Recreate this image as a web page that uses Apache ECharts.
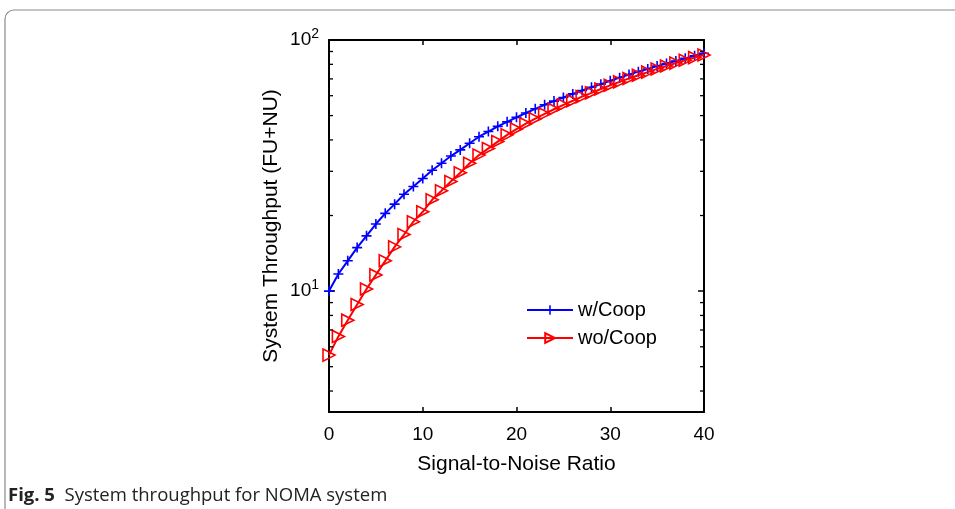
<!DOCTYPE html>
<html>
<head>
<meta charset="utf-8">
<script src="https://cdn.jsdelivr.net/npm/echarts@6/dist/echarts.min.js"></script>
<style>html,body{margin:0;padding:0;background:#fff;}#c{width:955px;height:509px;}</style>
</head>
<body>
<div id="c"></div>
<script>
var snr = [];
for (var i = 0; i <= 40; i++) snr.push(i);
var withCoop = [10, 11.7, 13.2, 14.9, 16.6, 18.5, 20.4, 22.2, 24.3, 26.1, 28.1, 30.3, 32.3, 34.5, 36.5, 38.8, 41.2, 43.2, 45.3, 47.2, 49.2, 51.2, 53.2, 55.2, 57.1, 59.0, 61.0, 62.9, 64.8, 66.7, 68.8, 70.8, 72.8, 74.8, 76.7, 78.7, 80.6, 82.5, 84.5, 86.5, 88.6];
var woCoop = [5.56, 6.6, 7.66, 8.85, 10.2, 11.6, 13.2, 15.0, 16.8, 18.9, 20.7, 23.1, 25.1, 27.3, 29.6, 32.3, 34.8, 37.0, 39.4, 41.9, 44.2, 46.4, 48.6, 50.8, 53.0, 55.2, 57.3, 59.5, 61.6, 63.8, 66.0, 68.1, 70.3, 72.4, 74.5, 76.7, 78.8, 80.9, 83.0, 85.1, 87.2];
var xTicks = [0, 10, 20, 30, 40];
var yMinorTicks = [4, 5, 6, 7, 8, 9, 20, 30, 40, 50, 60, 70, 80, 90];
var seriesNames = ['w/Coop', 'wo/Coop'];
var xName = 'Signal-to-Noise Ratio';
var yName = 'System Throughput (FU+NU)';

var font = 'Liberation Sans, Arial, Helvetica, sans-serif';
var chart = echarts.init(document.getElementById('c'));

function pairs(ys) { return snr.map(function (x, i) { return [x, ys[i]]; }); }

var plusPath = 'path://M4.2,0H5.8V4.2H10V5.8H5.8V10H4.2V5.8H0V4.2H4.2Z';

chart.setOption({
  animation: false,
  backgroundColor: '#fff',
  graphic: [
    { type: 'rect', shape: { x: 5, y: 10, width: 1000, height: 600, r: 9 }, style: { fill: 'none', stroke: '#8a8a8a', lineWidth: 1.2 }, silent: true },
    { type: 'text', left: 8, top: 486, style: { text: '{b|Fig. 5}  System throughput for NOMA system', font: '18.5px "Open Sans", "Noto Sans", sans-serif', fill: '#222', rich: { b: { fontWeight: 'bold', fontSize: 18.5, fontFamily: '"Open Sans", "Noto Sans", sans-serif', fill: '#222' } } } }
  ],
  grid: { left: 329, right: 251, top: 40, bottom: 97, containLabel: false },
  legend: {
    data: seriesNames,
    orient: 'vertical',
    left: 521, top: 295,
    itemWidth: 46, itemHeight: 12, itemGap: 8,
    textStyle: { fontFamily: font, fontSize: 20, color: '#000' },
    backgroundColor: 'rgba(0,0,0,0)'
  },
  xAxis: [{
    type: 'value', min: 0, max: 40, interval: 10,
    name: xName, nameLocation: 'middle', nameGap: 42,
    nameTextStyle: { fontFamily: font, fontSize: 21, color: '#000' },
    axisLine: { show: true, lineStyle: { color: '#000', width: 2 } },
    axisTick: { show: true, inside: true, length: 5, lineStyle: { color: '#000', width: 1.5 } },
    axisLabel: { fontFamily: font, fontSize: 19, color: '#000', margin: 13 },
    splitLine: { show: false }
  }, {
    type: 'value', min: 0, max: 40, interval: 10, position: 'top',
    axisLine: { show: true, onZero: false, lineStyle: { color: '#000', width: 2 } },
    axisTick: { show: true, inside: true, length: 5, lineStyle: { color: '#000', width: 1.5 } },
    axisLabel: { show: false }, splitLine: { show: false }
  }],
  yAxis: [{
    type: 'log', logBase: 10, min: 3.3, max: 100,
    name: yName, nameLocation: 'middle', nameGap: 47,
    nameTextStyle: { fontFamily: font, fontSize: 21, color: '#000' },
    axisLine: { show: true, onZero: false, lineStyle: { color: '#000', width: 2 } },
    axisTick: { show: true, inside: true, length: 6, lineStyle: { color: '#000', width: 1.5 } },
    axisLabel: {
      fontFamily: font, fontSize: 19, color: '#000', margin: 10, showMinLabel: false,
      formatter: function (v) {
        var e = Math.round(Math.log10(v));
        if (Math.abs(Math.pow(10, e) - v) > 1e-6) return '';
        return '10{s|' + e + '}';
      },
      rich: { s: { fontSize: 14, fontFamily: font, color: '#000', verticalAlign: 'top', padding: [0, 0, 12, 0] } }
    },
    splitLine: { show: false }
  }, {
    type: 'log', logBase: 10, min: 3.3, max: 100, position: 'right',
    axisLine: { show: true, onZero: false, lineStyle: { color: '#000', width: 2 } },
    axisTick: { show: true, inside: true, length: 6, lineStyle: { color: '#000', width: 1.5 } },
    axisLabel: { show: false }, splitLine: { show: false }
  }],
  series: [{
    name: seriesNames[0], type: 'line', data: pairs(withCoop),
    xAxisIndex: 0, yAxisIndex: 0,
    symbol: plusPath, symbolSize: 10, showAllSymbol: true,
    lineStyle: { color: '#0000ff', width: 2 },
    itemStyle: { color: '#0000ff' },
    z: 3
  }, {
    name: seriesNames[1], type: 'line', data: pairs(woCoop),
    xAxisIndex: 0, yAxisIndex: 0,
    symbol: 'triangle', symbolSize: 12, symbolRotate: -90, showAllSymbol: true,
    lineStyle: { color: '#ff0000', width: 2 },
    itemStyle: { color: 'rgba(255,255,255,0)', borderColor: '#ff0000', borderWidth: 1.6 },
    z: 4
  }, {
    type: 'custom', xAxisIndex: 0, yAxisIndex: 0, silent: true,
    data: yMinorTicks.map(function (v) { return [0, v]; }),
    renderItem: function (params, api) {
      var v = api.value(1);
      var l = api.coord([0, v]);
      var r = api.coord([40, v]);
      var st = { stroke: '#000', lineWidth: 1.3 };
      return { type: 'group', children: [
        { type: 'line', shape: { x1: l[0], y1: l[1], x2: l[0] + 4, y2: l[1] }, style: st },
        { type: 'line', shape: { x1: r[0], y1: r[1], x2: r[0] - 4, y2: r[1] }, style: st }
      ] };
    },
    z: 5
  }]
});
</script>
</body>
</html>
